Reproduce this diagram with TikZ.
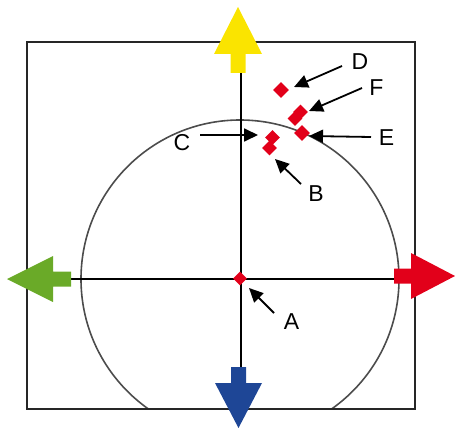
\documentclass[tikz,border=0pt]{standalone}
\usepackage{fontspec}
\setmainfont{Liberation Sans}
\usepackage{tikz}
\usetikzlibrary{arrows.meta,shapes.geometric}
\usepackage{xcolor}
\definecolor{upyellow}{RGB}{250,228,0}
\definecolor{leftgreen}{RGB}{106,170,40}
\definecolor{rightred}{RGB}{226,0,26}
\definecolor{downblue}{RGB}{30,70,150}
\definecolor{ptred}{RGB}{226,0,26}

\begin{document}
\begin{tikzpicture}[x=1pt,y=-1pt,>={Triangle[length=14pt,width=13pt]},
  font=\fontsize{23}{26}\selectfont,line cap=butt,
  pt/.style={diamond,fill=ptred,inner sep=0pt,minimum width=16pt,minimum height=16pt},
  lab/.style={inner sep=0pt},
  pointer/.style={->,line width=1.8pt}]
\useasboundingbox (0,0) rectangle (455,428);
% frame and circle
\begin{scope}
\clip (27,42) rectangle (415,409);
\draw[gray!60!black,line width=1.6pt] (240,279) circle (159);
\end{scope}
\draw[black!85,line width=2pt] (27,42) rectangle (415,409);
% axes
\coordinate (ytop) at (241,73);
\coordinate (ybot) at (241,367);
\coordinate (xlft) at (71,279);
\coordinate (xrgt) at (394,279);
\draw[line width=1.5pt] (ytop) -- (ybot);
\draw[line width=1.5pt] (xlft) -- (xrgt);
% block arrows
\fill[upyellow] (230.5,73) -- (230.5,54) -- (214,54) -- (238,7) -- (262,54) -- (245.5,54) -- (245.5,73) -- cycle;
\fill[leftgreen] (71,271.5) -- (53,271.5) -- (53,256) -- (7,279) -- (53,302) -- (53,286.5) -- (71,286.5) -- cycle;
\fill[rightred] (394,268.5) -- (411,268.5) -- (411,253) -- (455,276) -- (411,299) -- (411,283.5) -- (394,283.5) -- cycle;
\fill[downblue] (231,367) -- (231,383) -- (215,383) -- (238.5,428) -- (262,383) -- (246,383) -- (246,367) -- cycle;
% points
\node[pt,minimum width=14pt,minimum height=14pt] (pA) at (240,278.5) {};
\node[pt,minimum width=15pt,minimum height=15pt] (pB) at (269.5,148) {};
\node[pt,minimum width=15pt,minimum height=15pt] (pC) at (272.5,137.5) {};
\node[pt] (pD) at (281,90) {};
\node[pt] (pE) at (302,133) {};
\node[pt,minimum width=15pt,minimum height=15pt] (pF1) at (300.5,112) {};
\node[pt,minimum width=15pt,minimum height=15pt] (pF2) at (295,118.5) {};
% labels
\node[lab] (lA) at (291.5,322) {A};
\node[lab] (lB) at (316,194) {B};
\node[lab] (lC) at (182,143) {C};
\node[lab] (lD) at (360,62) {D};
\node[lab] (lE) at (386.5,138) {E};
\node[lab] (lF) at (376.5,88) {F};
% pointers
\coordinate (tA) at (274,313);  \coordinate (hA) at (249,288);
\coordinate (tB) at (301,184);  \coordinate (hB) at (275,159);
\coordinate (tC) at (200,135);  \coordinate (hC) at (258,135);
\coordinate (tD) at (342,66);   \coordinate (hD) at (294,87);
\coordinate (tE) at (371,137);  \coordinate (hE) at (309,136);
\coordinate (tF) at (362,88);   \coordinate (hF) at (309,111);
\draw[pointer] (tA) -- (hA);
\draw[pointer] (tB) -- (hB);
\draw[pointer] (tC) -- (hC);
\draw[pointer] (tD) -- (hD);
\draw[pointer] (tE) -- (hE);
\draw[pointer] (tF) -- (hF);
\end{tikzpicture}
\end{document}
